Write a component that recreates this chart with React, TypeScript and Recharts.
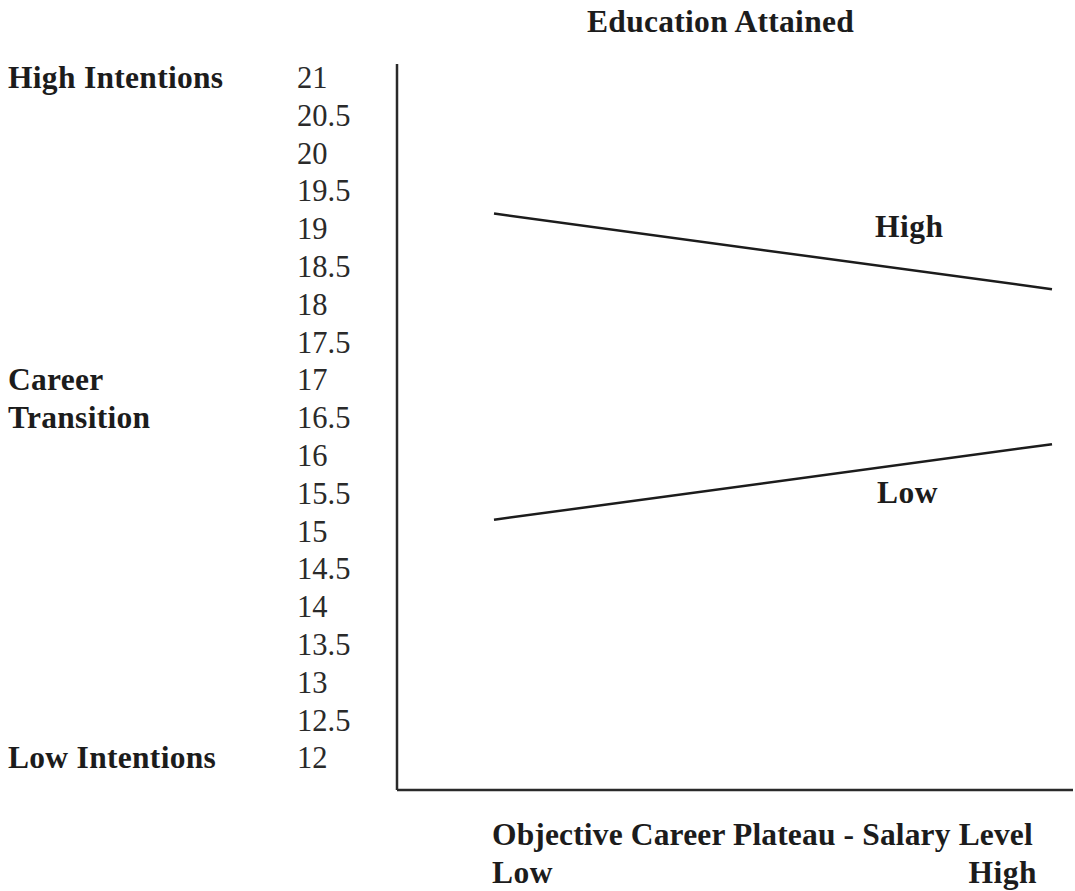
import React from "react";
import { LineChart, Line, XAxis, YAxis } from "recharts";

const categories = ["Low", "High"];
const highEducation = [19.2, 18.2];
const lowEducation = [15.15, 16.15];
const yTicks = [12, 12.5, 13, 13.5, 14, 14.5, 15, 15.5, 16, 16.5, 17, 17.5, 18, 18.5, 19, 19.5, 20, 20.5, 21];
const sideLabelValues = [21, 17, 16.5, 12];
const sideLabelTexts = ["High Intentions", "Career", "Transition", "Low Intentions"];

const data = categories.map((c, i) => ({ level: c, high: highEducation[i], low: lowEducation[i] }));

const FONT = '"Liberation Serif", "Times New Roman", serif';
const INK = "#1c1c1c";
const BOLD_SIZE = 31.5;

const YTick = (props: any) => {
  const { y, payload } = props;
  const v = payload.value;
  const idx = sideLabelValues.indexOf(v);
  return (
    <g>
      <text x={297} y={y} dy={10.5} textAnchor="start" fontFamily={FONT} fontSize={30.5} fill="#2a2a2a">
        {String(v)}
      </text>
      {idx >= 0 && (
        <text x={8} y={y} dy={10.5} textAnchor="start" fontFamily={FONT} fontSize={BOLD_SIZE} fontWeight="bold" letterSpacing={0.3} fill={INK}>
          {sideLabelTexts[idx]}
        </text>
      )}
    </g>
  );
};

const XTick = (props: any) => {
  const { x, payload } = props;
  const isLow = payload.value === "Low";
  return (
    <text
      x={isLow ? x - 2 : x - 15}
      y={883}
      textAnchor={isLow ? "start" : "end"}
      fontFamily={FONT}
      fontSize={BOLD_SIZE}
      fontWeight="bold"
      letterSpacing={0.5}
      fill={INK}
    >
      {payload.value}
    </text>
  );
};

export default function App() {
  return (
    <div style={{ position: "absolute", left: 0, top: 0, width: 1075, height: 891, background: "#fff" }}>
      <LineChart
        width={1075}
        height={891}
        data={data}
        margin={{ top: 64, right: 2, bottom: 71, left: 0 }}
      >
        <XAxis
          dataKey="level"
          height={30}
          padding={{ left: 97, right: 21 }}
          tickLine={false}
          axisLine={{ stroke: "#2a2a2a", strokeWidth: 2.5 }}
          tick={<XTick />}
          interval={0}
        />
        <YAxis
          type="number"
          width={397}
          domain={[11.575, 21.179]}
          ticks={yTicks}
          allowDataOverflow
          interval={0}
          tickLine={false}
          axisLine={{ stroke: "#2a2a2a", strokeWidth: 2.5 }}
          tick={<YTick />}
        />
        <Line dataKey="high" stroke={INK} strokeWidth={2.5} dot={false} isAnimationActive={false} />
        <Line dataKey="low" stroke={INK} strokeWidth={2.5} dot={false} isAnimationActive={false} />
      </LineChart>
      <svg
        width={1075}
        height={891}
        style={{ position: "absolute", left: 0, top: 0, pointerEvents: "none" }}
      >
        <text x={587} y={32} fontFamily={FONT} fontSize={BOLD_SIZE} fontWeight="bold" letterSpacing={0.3} fill={INK}>
          Education Attained
        </text>
        <text x={492} y={845} fontFamily={FONT} fontSize={BOLD_SIZE} fontWeight="bold" letterSpacing={0.15} fill={INK}>
          Objective Career Plateau - Salary Level
        </text>
        <text x={875} y={237} fontFamily={FONT} fontSize={BOLD_SIZE} fontWeight="bold" letterSpacing={0.5} fill={INK}>
          High
        </text>
        <text x={877} y={503} fontFamily={FONT} fontSize={BOLD_SIZE} fontWeight="bold" letterSpacing={0.5} fill={INK}>
          Low
        </text>
      </svg>
    </div>
  );
}
